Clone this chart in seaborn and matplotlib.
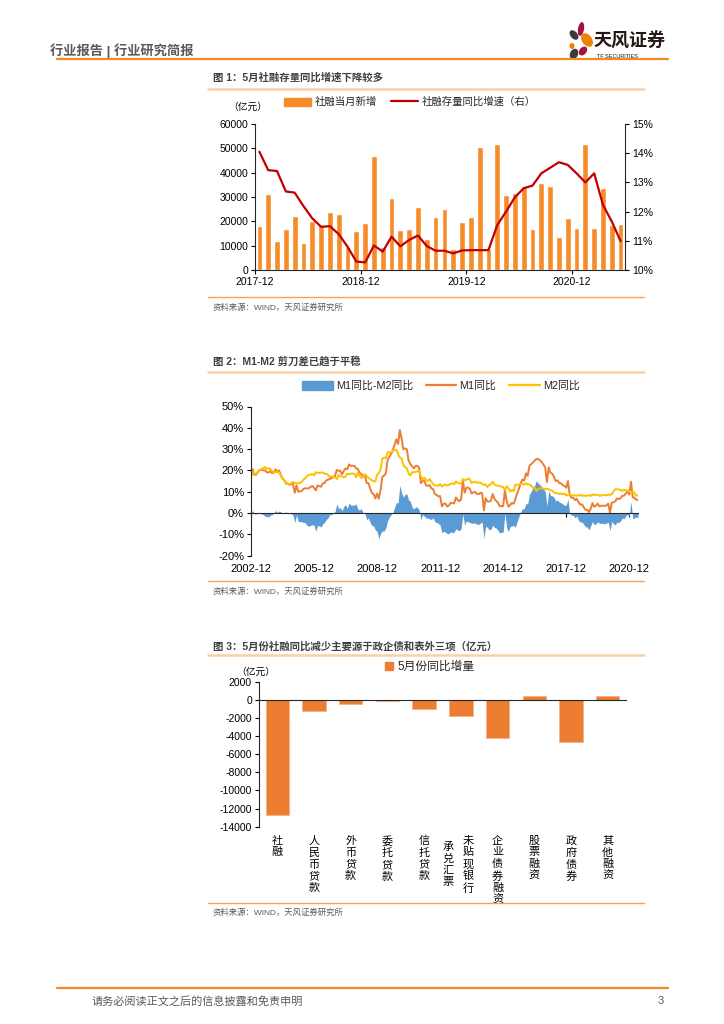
import numpy as np
import pandas as pd
import matplotlib
matplotlib.use("Agg")
import matplotlib.pyplot as plt
import matplotlib.transforms as mtransforms
from matplotlib.patches import Patch, Ellipse
from matplotlib.lines import Line2D
import seaborn as sns

# ---------------- data ----------------
# Figure 1: monthly new TSF (100m yuan) and TSF stock growth (%)
tsf_months = [p.strftime('%Y-%m') for p in pd.period_range('2017-12', '2021-05', freq='M')]
tsf_new = [18200, 31200, 11900, 17000, 22100, 11100, 20300, 18500, 24000, 22900, 9600, 16000,
           19200, 46800, 9600, 29500, 16400, 17000, 26000, 12700, 21800, 24900, 8500, 19700,
           21800, 50400, 8500, 51800, 30800, 31800, 34500, 16800, 35800, 34500, 13700, 21200,
           17100, 51800, 17100, 33600, 18400, 19000]
tsf_growth = [14.05, 13.42, 13.39, 12.69, 12.65, 12.19, 11.77, 11.48, 11.50, 11.23, 10.80, 10.29,
              10.26, 10.84, 10.63, 11.14, 10.81, 11.03, 11.18, 10.82, 10.66, 10.66, 10.57, 10.67,
              10.68, 10.68, 10.68, 11.54, 12.00, 12.49, 12.80, 12.89, 13.31, 13.50, 13.69, 13.60,
              13.31, 13.00, 13.31, 12.23, 11.66, 10.99]

# Figure 2: M1 / M2 yoy (%), 2002-12 .. 2021-05
m_months = [p.strftime('%Y-%m') for p in pd.period_range('2002-12', '2021-05', freq='M')]
m1 = [16.8,
      20.5, 17.9, 18.0, 19.4, 20.2, 20.2, 20.0, 20.0, 19.1, 19.0, 19.6, 18.7,
      18.9, 20.5, 19.3, 20.0, 18.0, 16.2, 15.4, 14.1, 13.7, 13.2, 13.6, 13.6,
      9.5, 13.0, 9.9, 10.1, 10.4, 11.3, 11.6, 11.5, 11.6, 12.2, 12.7, 11.8,
      10.6, 12.9, 12.6, 12.3, 13.9, 14.0, 15.3, 15.6, 16.0, 16.3, 16.8, 17.5,
      20.2, 19.8, 19.8, 18.1, 19.8, 20.9, 20.6, 22.8, 22.1, 22.2, 22.1, 21.0,
      20.7, 18.9, 18.3, 16.9, 18.1, 14.2, 14.0, 11.6, 9.4, 8.9, 6.8, 9.1,
      6.7, 10.9, 17.0, 17.5, 18.7, 24.8, 26.4, 27.7, 29.5, 32.0, 34.6, 32.4,
      39.0, 34.9, 29.9, 30.3, 29.9, 24.6, 23.0, 21.9, 20.9, 22.1, 22.1, 21.2,
      14.0, 15.0, 15.0, 12.9, 12.7, 13.1, 11.6, 11.2, 8.9, 8.4, 7.8, 7.9,
      3.1, 4.3, 4.4, 3.1, 3.5, 4.7, 4.6, 4.5, 7.3, 6.1, 5.5, 6.5,
      15.3, 9.5, 11.9, 11.9, 11.3, 9.1, 9.7, 9.9, 8.9, 8.9, 9.4, 9.3,
      1.2, 6.9, 5.4, 5.3, 5.7, 8.9, 6.7, 5.7, 4.8, 3.2, 3.2, 3.2,
      10.6, 5.6, 2.9, 3.7, 4.7, 4.3, 6.6, 9.3, 11.4, 14.0, 15.7, 15.2,
      18.6, 17.4, 22.1, 22.9, 23.7, 24.6, 25.4, 25.3, 24.7, 23.9, 22.7, 21.4,
      14.5, 21.4, 18.8, 18.5, 17.0, 15.0, 15.3, 14.0, 14.0, 13.0, 12.7, 11.8,
      15.0, 8.5, 7.1, 7.2, 6.0, 6.6, 5.1, 3.9, 4.0, 2.7, 1.5, 1.5,
      0.4, 2.0, 4.6, 2.9, 3.4, 4.4, 3.1, 3.4, 3.4, 3.3, 3.5, 4.4,
      0.0, 4.8, 5.0, 5.5, 6.8, 6.5, 6.9, 8.0, 8.1, 9.1, 10.0, 8.6,
      14.7, 7.4, 7.1, 6.2, 6.1]
m2 = [16.8,
      19.4, 18.5, 18.5, 19.2, 20.2, 20.8, 20.7, 21.6, 20.7, 21.0, 20.7, 19.6,
      18.9, 19.4, 19.1, 19.1, 17.5, 16.2, 15.3, 13.6, 13.9, 13.5, 14.0, 14.6,
      14.1, 13.9, 14.0, 14.1, 14.6, 15.7, 16.3, 17.3, 17.9, 18.0, 18.3, 17.6,
      19.2, 18.8, 18.8, 18.9, 19.1, 18.4, 18.4, 17.9, 16.8, 17.1, 16.8, 16.9,
      15.9, 17.8, 17.3, 17.1, 16.7, 17.1, 18.5, 18.1, 18.5, 18.5, 18.5, 16.7,
      18.9, 17.5, 16.3, 16.9, 18.1, 17.4, 16.4, 16.0, 15.3, 15.0, 14.8, 17.8,
      18.8, 20.5, 25.5, 26.0, 25.7, 28.5, 28.4, 28.5, 29.3, 29.4, 29.7, 27.7,
      26.0, 25.5, 22.5, 21.5, 21.0, 18.5, 17.6, 19.2, 19.0, 19.3, 19.5, 19.7,
      17.2, 15.7, 16.6, 15.3, 15.1, 15.9, 14.7, 13.5, 13.0, 12.9, 12.7, 13.6,
      12.4, 13.0, 13.4, 12.8, 13.2, 13.6, 13.9, 13.5, 14.8, 14.1, 13.9, 13.8,
      15.9, 15.2, 15.7, 16.1, 15.8, 14.0, 14.5, 14.7, 14.2, 14.3, 14.2, 13.6,
      13.2, 13.3, 12.1, 13.2, 13.4, 14.7, 13.5, 12.8, 12.9, 12.6, 12.3, 12.2,
      10.8, 12.5, 11.6, 10.1, 10.8, 10.2, 13.3, 13.3, 13.1, 13.5, 13.7, 13.3,
      14.0, 13.3, 13.4, 12.8, 11.8, 11.8, 10.2, 11.4, 11.5, 11.6, 11.4, 11.3,
      11.3, 11.1, 10.6, 10.5, 9.6, 9.4, 9.2, 8.9, 9.2, 8.8, 9.1, 8.2,
      8.6, 8.8, 8.2, 8.3, 8.3, 8.0, 8.5, 8.2, 8.3, 8.0, 8.0, 8.1,
      8.4, 8.0, 8.6, 8.5, 8.5, 8.5, 8.1, 8.2, 8.4, 8.4, 8.2, 8.7,
      8.4, 8.8, 10.1, 11.1, 11.1, 11.1, 10.7, 10.4, 10.9, 10.5, 10.7, 10.1,
      9.4, 10.1, 9.4, 8.1, 8.3]

# Figure 3: May yoy change by item (100m yuan)
items = ['社融', '人民币贷款', '外币贷款', '委托贷款', '信托贷款', '未贴现银行承兑汇票',
         '企业债券融资', '股票融资', '政府债券', '其他融资']
may_change = [-12700, -1180, -440, -150, -1000, -1800, -4240, 440, -4680, 440]

# ---------------- style ----------------
sns.set_style("ticks")
plt.rcParams['font.family'] = ['Liberation Sans', 'Noto Sans CJK SC', 'DejaVu Sans']
plt.rcParams['axes.unicode_minus'] = False

W, H = 724, 1024
fig = plt.figure(figsize=(W / 100, H / 100), dpi=100)


def box(x0, y0, x1, y1):
    return [x0 / W, 1 - y1 / H, (x1 - x0) / W, (y1 - y0) / H]


orange = '#F08A24'
grey = '#595959'

# page decorations
page = fig.add_axes([0, 0, 1, 1], zorder=0)
page.set_xlim(0, W)
page.set_ylim(H, 0)
page.axis('off')

page.text(50, 51, '行业报告 | 行业研究简报', fontsize=9.5, color=grey, va='center', fontweight='bold')
page.plot([57, 668], [59, 59], color=orange, lw=1.6)
# logo petals
for (cx, cy, w, h, ang, col) in [(574, 35, 7, 11, -40, '#3E3A39'), (581, 29, 6, 14, 10, '#A5123D'),
                                 (587, 40, 10, 15, -35, '#EF8200'), (572, 46, 5, 6, 0, '#EF8200'),
                                 (574, 54, 8, 11, 25, '#3E3A39'), (583, 51, 7, 10, 40, '#A5123D')]:
    page.add_patch(Ellipse((cx, cy), w, h, angle=ang, color=col, lw=0))
page.text(593, 42, '天风证券', fontsize=13, fontweight='bold', color='#231815', va='center')
page.text(597, 56, 'TF SECURITIES', fontsize=4, color='#231815', va='center')

titles = [(78, 89, '图 1：5月社融存量同比增速下降较多', 297, 308),
          (361, 372, '图 2：M1-M2 剪刀差已趋于平稳', 581, 592),
          (646, 655, '图 3：5月份社融同比减少主要源于政企债和表外三项（亿元）', 903, 913)]
for ty, ly, ttl, by, sy in titles:
    page.text(213, ty, ttl, fontsize=7.5, fontweight='bold', color='#404040', va='center')
    page.plot([208, 644], [ly, ly], color='#FAD0AC', lw=1.8)
    page.plot([208, 644], [by, by], color='#F5A35C', lw=1)
    page.text(213, sy, '资料来源：WIND，天风证券研究所', fontsize=6, color=grey, va='center')

page.plot([57, 668], [988, 988], color=orange, lw=1.6)
page.text(92, 1001, '请务必阅读正文之后的信息披露和免责申明', fontsize=8, color=grey, va='center')
page.text(661, 1001, '3', fontsize=8, color=grey, va='center', ha='center')

# ---------------- chart 1 ----------------
c_bar1 = '#F68B2A'
c_red = '#C00000'
ax1 = fig.add_axes(box(255, 124, 625, 270))
sns.barplot(x=tsf_months, y=tsf_new, color=c_bar1, saturation=1, width=0.65, ax=ax1)
ax1.set_ylim(0, 60000)
ax1.set_yticks(range(0, 60001, 10000))
n1 = len(tsf_months)
ax1.set_xticks(np.arange(-0.5, n1, 12))
ax1.set_xticklabels(tsf_months[::12])
ax1.set_xlabel('')
ax1.set_ylabel('')
ax1b = ax1.twinx()
sns.lineplot(x=np.arange(n1), y=tsf_growth, color=c_red, lw=1.6, ax=ax1b)
ax1b.set_ylim(10, 15)
ax1b.set_yticks(range(10, 16))
ax1b.yaxis.set_major_formatter(lambda v, p: f'{v:.0f}%')
ax1b.set_ylabel('')
ax1.set_xlim(-0.5, n1 - 0.5)
for a in (ax1, ax1b):
    a.spines['top'].set_visible(False)
    a.tick_params(direction='out', length=3, width=0.8, labelsize=7.5, pad=2, colors='black')
ax1.spines['right'].set_visible(False)
ax1b.spines['left'].set_visible(False)
ax1b.spines['bottom'].set_visible(False)
page.text(228, 107, '（亿元）', fontsize=7, color='black', va='center')
ax1.legend(handles=[Patch(color=c_bar1, label='社融当月新增'),
                    Line2D([], [], color=c_red, lw=1.6, label='社融存量同比增速（右）')],
           loc='center', bbox_to_anchor=(410, 102), bbox_transform=page.transData,
           ncol=2, frameon=False, fontsize=7.5, handlelength=2.6, handleheight=0.8,
           columnspacing=1.4, handletextpad=0.3)

# ---------------- chart 2 ----------------
c_blue = '#5B9BD5'
c_m1 = '#ED7D31'
c_m2 = '#FFC000'
mx = np.arange(len(m_months))
m_diff = np.array(m1) - np.array(m2)
ax2 = fig.add_axes(box(251, 406.5, 638, 555.5))
ax2.fill_between(mx, m_diff, 0, color=c_blue, lw=0)
sns.lineplot(x=mx, y=m1, color=c_m1, lw=1.4, ax=ax2)
sns.lineplot(x=mx, y=m2, color=c_m2, lw=1.4, ax=ax2)
ax2.set_ylim(-20, 50)
ax2.set_yticks(range(-20, 51, 10))
ax2.yaxis.set_major_formatter(lambda v, p: f'{v:.0f}%')
ax2.set_xlim(0, len(m_months) - 1)
ax2.set_xticks(mx[::36])
ax2.set_xticklabels(m_months[::36])
ax2.spines['bottom'].set_position(('data', 0))
ax2.spines['bottom'].set_zorder(3)
ax2.spines['top'].set_visible(False)
ax2.spines['right'].set_visible(False)
ax2.tick_params(direction='out', length=3, width=0.8, labelsize=8, pad=2, colors='black')
ax2.tick_params(axis='x', pad=34)
ax2.legend(handles=[Patch(color=c_blue, label='M1同比-M2同比'),
                    Line2D([], [], color=c_m1, lw=1.6, label='M1同比'),
                    Line2D([], [], color=c_m2, lw=1.6, label='M2同比')],
           loc='center', bbox_to_anchor=(441, 386), bbox_transform=page.transData,
           ncol=3, frameon=False, fontsize=7.8, handlelength=2.8, handleheight=0.8,
           columnspacing=1.2, handletextpad=0.3)

# ---------------- chart 3 ----------------
c_bar3 = '#ED7D31'
ax3 = fig.add_axes(box(259, 681.7, 626, 826.7))
sns.barplot(x=items, y=may_change, color=c_bar3, saturation=1, width=0.64,
            edgecolor='#F4B183', linewidth=0.6, ax=ax3)
ax3.set_ylim(-14000, 2000)
ax3.set_yticks(range(-14000, 2001, 2000))
ax3.set_xlim(-0.5, len(items) - 0.5)
ax3.set_xticks([])
ax3.set_xlabel('')
ax3.set_ylabel('')
ax3.spines['bottom'].set_position(('data', 0))
ax3.spines['top'].set_visible(False)
ax3.spines['right'].set_visible(False)
ax3.tick_params(direction='out', length=3, width=0.8, labelsize=7.5, pad=2, colors='black')
trans = mtransforms.blended_transform_factory(ax3.transData, ax3.transAxes)
ax_h = 145.0
char_px = 11.7
for i, lab in enumerate(items):
    # long labels wrap into two vertical columns, first column on the right
    cols = [lab[:5], lab[5:]] if len(lab) > 6 else [lab]
    offs = [0.0] if len(cols) == 1 else [0.2, -0.34]
    longest = max(len(c) for c in cols)
    for c, o in zip(cols, offs):
        shift = (longest - len(c)) / 2 * char_px
        ax3.text(i + o, -(9 + shift) / ax_h, '\n'.join(c), transform=trans, ha='center', va='top',
                 fontsize=8, linespacing=1.2, color='black')
page.text(236, 672, '（亿元）', fontsize=7, color='black', va='center')
ax3.legend(handles=[Patch(color=c_bar3, label='5月份同比增量')],
           loc='center', bbox_to_anchor=(430, 667), bbox_transform=page.transData,
           frameon=False, fontsize=8.5, handlelength=0.7, handleheight=0.7, handletextpad=0.4)

fig.savefig('out.png', dpi=100)
